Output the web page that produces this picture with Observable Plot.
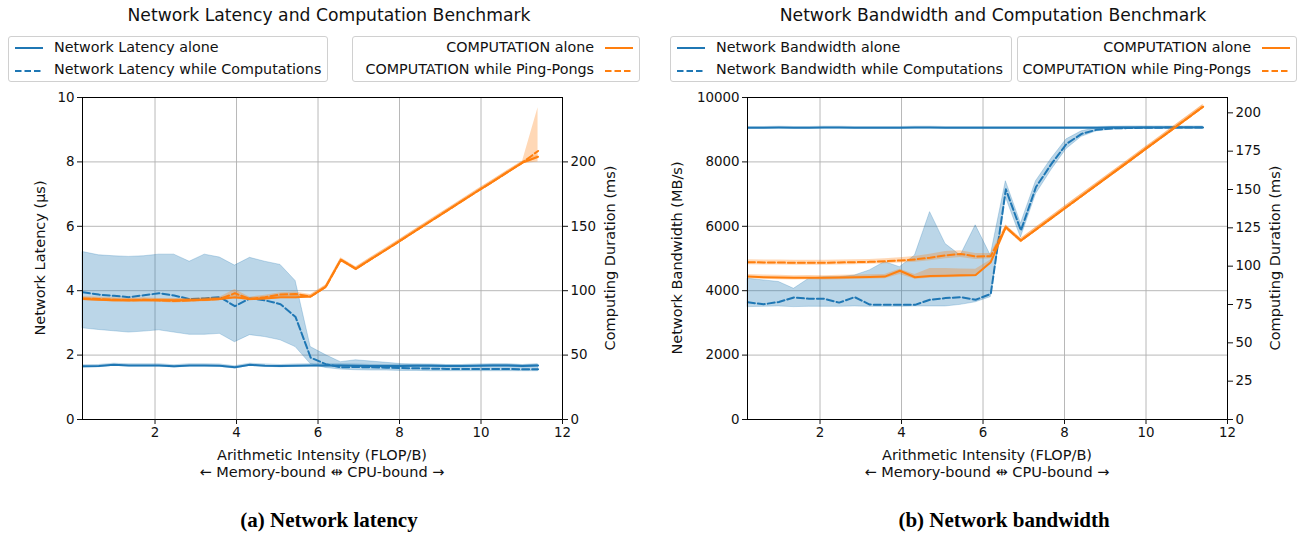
<!DOCTYPE html>
<html><head><meta charset="utf-8">
<script src="https://cdn.jsdelivr.net/npm/d3@7"></script>
<script src="https://cdn.jsdelivr.net/npm/@observablehq/plot@0.6"></script>
<style>
body{margin:0;background:#fff;font-family:"DejaVu Sans",sans-serif;}
#page{position:relative;width:1299px;height:533px;overflow:hidden;}
.abs{position:absolute;white-space:nowrap;}
.ctr{transform:translate(-50%,-50%);}
.rot{transform:translate(-50%,-50%) rotate(-90deg);}
.lg{position:absolute;border:1px solid #d0d0d0;border-radius:3px;background:#fff;box-sizing:border-box;}
.t{font-size:14.3px;color:#111;}
.al{font-size:14.5px;color:#111;}
</style></head><body><div id="page"></div>
<script>
// ---------- data ----------
const intensity = [0.23,0.62,0.99,1.36,1.73,2.1,2.47,2.85,3.22,3.59,3.96,4.33,4.7,5.08,5.45,5.82,6.19,6.56,6.93,7.3,7.68,8.05,8.42,8.79,9.16,9.53,9.9,10.28,10.65,11.02,11.4];

// (a) latency panel (µs) and computation (ms)
const latAlone   = [1.65,1.66,1.70,1.68,1.68,1.68,1.65,1.68,1.68,1.67,1.62,1.70,1.67,1.66,1.67,1.68,1.68,1.68,1.67,1.66,1.66,1.66,1.67,1.67,1.66,1.66,1.67,1.68,1.68,1.66,1.68];
const latAloneLo = [1.60,1.61,1.65,1.63,1.63,1.63,1.60,1.63,1.63,1.62,1.57,1.65,1.62,1.61,1.62,1.63,1.63,1.63,1.62,1.61,1.61,1.61,1.62,1.62,1.61,1.61,1.62,1.63,1.63,1.61,1.63];
const latAloneHi = [1.70,1.71,1.75,1.73,1.73,1.73,1.70,1.73,1.73,1.72,1.67,1.75,1.72,1.71,1.72,1.73,1.73,1.73,1.72,1.71,1.71,1.71,1.72,1.72,1.71,1.71,1.72,1.73,1.73,1.71,1.73];
const latWhile   = [3.95,3.88,3.84,3.80,3.86,3.92,3.85,3.74,3.76,3.80,3.52,3.76,3.70,3.58,3.18,1.92,1.72,1.62,1.63,1.62,1.61,1.60,1.59,1.58,1.57,1.57,1.57,1.57,1.57,1.56,1.56];
const latWhileLo = [2.83,2.78,2.74,2.70,2.73,2.77,2.70,2.63,2.63,2.66,2.40,2.62,2.56,2.46,2.25,1.72,1.60,1.55,1.53,1.52,1.52,1.51,1.51,1.50,1.50,1.50,1.50,1.50,1.50,1.50,1.50];
const latWhileHi = [5.20,5.10,5.07,5.05,5.07,5.12,5.12,4.90,5.12,5.03,4.78,5.02,4.90,4.80,4.30,2.25,2.00,1.78,1.84,1.80,1.76,1.72,1.70,1.69,1.68,1.68,1.68,1.70,1.70,1.68,1.70];
const compAloneA   = [93.5,93,92.5,92.5,92.5,92.5,92.5,92.5,93,93.5,95,93.5,94,95,95,95.5,103,124,117,124.5,132,139.5,147,154.5,162,169.5,177,184.5,192,199.5,204];
const compAloneALo = [92.3,91.8,91.3,91.3,91.3,91.3,91.3,91.3,91.8,92.3,93.5,92.3,92.8,93.8,93.8,94.3,101.8,122.8,115.8,123.3,130.8,138.3,145.8,153.3,160.8,168.3,175.8,183.3,190.8,198.3,202.5];
const compAloneAHi = [94.7,94.2,93.7,93.7,93.7,93.7,93.7,93.7,94.2,94.7,96.5,94.7,95.2,96.2,96.2,96.7,104.2,125.2,118.2,125.7,133.2,140.7,148.2,155.7,163.2,170.7,178.2,185.7,193.2,200.7,205.5];
const compWhileA   = [94,93.5,93,92.5,93,92.5,92,92.5,93,93.5,98,93.5,95,97,97.5,95.5,103,124,117,124.5,132,139.5,147,154.5,162,169.5,177,184.5,192,199.5,208.5];
const compWhileALo = [92.5,92,91.5,91,91.5,91,90.5,91,91.5,92,96,92,93.5,95.5,95.5,94,101.5,122.5,115.5,123,130.5,138,145.5,153,160.5,168,175.5,183,190.5,198.5,200];
const compWhileAHi = [95.5,95,94.5,94,94.5,94,93.5,94,94.5,95,101,95,96.5,98.5,99,97,104.5,125.5,118.5,126,133.5,141,148.5,156,163.5,171,178.5,186,193.5,200.5,242];

// (b) bandwidth panel (MB/s) and computation (ms)
const bwAlone   = [9060,9060,9065,9060,9060,9065,9065,9060,9060,9060,9060,9065,9065,9060,9060,9060,9060,9060,9060,9060,9060,9060,9060,9060,9065,9065,9065,9070,9070,9070,9070];
const bwAloneLo = [9020,9020,9025,9020,9020,9025,9025,9020,9020,9020,9020,9025,9025,9020,9020,9020,9020,9020,9020,9020,9020,9020,9020,9020,9025,9025,9025,9030,9030,9030,9030];
const bwAloneHi = [9100,9100,9105,9100,9100,9105,9105,9100,9100,9100,9100,9105,9105,9100,9100,9100,9100,9100,9100,9100,9100,9100,9100,9100,9105,9105,9105,9110,9110,9110,9110];
const bwWhile   = [3640,3580,3650,3790,3750,3750,3630,3800,3570,3560,3560,3560,3720,3770,3800,3720,3900,7150,5870,7220,7940,8560,8870,9000,9040,9050,9060,9060,9070,9070,9070];
const bwWhileLo = [3490,3500,3510,3490,3500,3500,3500,3510,3500,3500,3500,3510,3510,3510,3560,3640,3800,6900,5650,7000,7750,8400,8780,8950,9000,9020,9030,9040,9050,9050,9050];
const bwWhileHi = [4370,4320,4270,4060,4370,4420,4420,4470,4630,4890,4730,5090,6440,5450,5090,6030,5090,7400,6080,7400,8100,8700,8950,9050,9080,9090,9090,9090,9090,9090,9090];
const compAloneB   = [93.2,92.8,92.6,92.4,92.5,92.4,92.6,92.8,93.0,93.2,97.0,92.8,93.6,93.8,94.0,94.3,102.6,125.4,116.7,123.9,131.3,138.6,145.8,153.0,160.2,167.4,174.7,182.1,189.3,196.5,204.0];
const compAloneBLo = [91.8,91.4,91.2,91.0,91.1,91.0,91.2,91.4,91.6,91.8,94.5,91.4,92.2,92.4,92.6,92.9,101.2,124.0,115.3,122.5,129.9,137.2,144.4,151.6,158.8,166.0,173.3,180.7,187.9,195.1,202.6];
const compAloneBHi = [94.6,94.2,94.0,93.8,93.9,93.8,94.0,94.2,94.4,94.6,98.0,94.5,98.5,98.5,98.2,98.0,104.0,126.8,118.1,125.3,132.7,140.0,147.2,154.4,161.6,168.8,176.1,183.5,190.7,197.9,205.4];
const compWhileB   = [102.6,102.4,102.4,102.2,102.2,102.2,102.4,102.6,102.8,103.2,103.7,104.4,105.5,107.0,108.0,106.3,106.5,125.4,116.7,123.9,131.3,138.6,145.8,153.0,160.2,167.4,174.7,182.1,189.3,196.5,204.0];
const compWhileBLo = [101.0,100.8,100.8,100.6,100.6,100.6,100.8,101.0,101.2,101.6,102.0,102.6,103.5,104.8,105.6,104.3,104.8,124.0,115.3,122.5,129.9,137.2,144.4,151.6,158.8,166.0,173.3,180.7,187.9,195.1,202.6];
const compWhileBHi = [104.2,104.0,104.0,103.8,103.8,103.8,104.0,104.2,104.4,104.8,105.5,106.3,107.8,109.6,110.0,108.3,108.2,126.8,118.1,125.3,132.7,140.0,147.2,154.4,161.6,168.8,176.1,183.5,190.7,197.9,205.4];

const xTicks = [2,4,6,8,10,12];
const latTicks = [0,2,4,6,8,10];
const bwTicks = [0,2000,4000,6000,8000,10000];
const msTicksA = [0,50,100,150,200];
const msTicksB = [0,25,50,75,100,125,150,175,200];

// ---------- helpers ----------
const BLUE = "#1f77b4", ORANGE = "#ff7f0e";
const page = document.getElementById("page");
function txt(s, x, y, cls, extra){
  const d = document.createElement("div");
  d.className = "abs " + cls; d.textContent = s;
  d.style.left = x + "px"; d.style.top = y + "px";
  if (extra) Object.assign(d.style, extra);
  page.appendChild(d); return d;
}
function legend(x, y, w, items, right){
  const box = document.createElement("div");
  box.className = "lg";
  Object.assign(box.style, {left:x+"px", top:y+"px", width:w+"px", height:"46px"});
  items.forEach((it, i) => {
    const cy = 11 + i*22.5;
    const svg = document.createElementNS("http://www.w3.org/2000/svg","svg");
    svg.setAttribute("width", 30); svg.setAttribute("height", 6);
    Object.assign(svg.style, {position:"absolute", top:(cy-3)+"px", [right?"right":"left"]: "5px"});
    const l = document.createElementNS("http://www.w3.org/2000/svg","line");
    l.setAttribute("x1",1); l.setAttribute("x2",29); l.setAttribute("y1",3); l.setAttribute("y2",3);
    l.setAttribute("stroke", it.color); l.setAttribute("stroke-width", 2);
    if (it.dash) l.setAttribute("stroke-dasharray", "6.5,3");
    svg.appendChild(l); box.appendChild(svg);
    const t = document.createElement("div");
    t.className = "t"; t.textContent = it.label;
    Object.assign(t.style, {position:"absolute", top:(cy-9.5)+"px", whiteSpace:"nowrap", [right?"right":"left"]: "45px"});
    box.appendChild(t);
  });
  page.appendChild(box);
}
function rows(...cols){
  return intensity.map((x, i) => ({x, ...Object.fromEntries(cols.map(([k, arr, f]) => [k, f ? arr[i]*f : arr[i]]))}));
}

function panel(o){
  const k = o.k; // right-axis (ms) to left-axis conversion
  const net = rows(["a", o.netAlone], ["aLo", o.netAloneLo], ["aHi", o.netAloneHi], ["w", o.netWhile], ["wLo", o.netWhileLo], ["wHi", o.netWhileHi]);
  const cmp = rows(["a", o.cAlone, k], ["aLo", o.cAloneLo, k], ["aHi", o.cAloneHi, k], ["w", o.cWhile, k], ["wLo", o.cWhileLo, k], ["wHi", o.cWhileHi, k]);
  const chart = Plot.plot({
    width: o.width, height: 362,
    marginLeft: o.ml, marginRight: o.mr, marginTop: 10, marginBottom: 30,
    style: {fontFamily: "DejaVu Sans, sans-serif", fontSize: "13.4px", color: "#111", background: "transparent", overflow: "visible"},
    x: {domain: [0.22, 12]},
    y: {domain: [0, o.yMax]},
    marks: [
      Plot.gridX(xTicks.slice(0, -1), {stroke: "#b0b0b0", strokeOpacity: 1, strokeWidth: 0.9}),
      Plot.gridY(o.yTicks.slice(1, -1), {stroke: "#b0b0b0", strokeOpacity: 1, strokeWidth: 0.9}),
      Plot.areaY(net, {x: "x", y1: "wLo", y2: "wHi", fill: BLUE, fillOpacity: 0.3, stroke: BLUE, strokeOpacity: 0.25, strokeWidth: 1}),
      Plot.areaY(net, {x: "x", y1: "aLo", y2: "aHi", fill: BLUE, fillOpacity: 0.3}),
      Plot.line(net, {x: "x", y: "a", stroke: BLUE, strokeWidth: 2}),
      Plot.line(net, {x: "x", y: "w", stroke: BLUE, strokeWidth: 2, strokeDasharray: "7,3"}),
      Plot.areaY(cmp, {x: "x", y1: "aLo", y2: "aHi", fill: ORANGE, fillOpacity: 0.3}),
      Plot.areaY(cmp, {x: "x", y1: "wLo", y2: "wHi", fill: ORANGE, fillOpacity: 0.3}),
      Plot.line(cmp, {x: "x", y: "w", stroke: ORANGE, strokeWidth: 2, strokeDasharray: "7,3"}),
      Plot.line(cmp, {x: "x", y: "a", stroke: ORANGE, strokeWidth: 2}),
      Plot.frame({stroke: "#000", strokeWidth: 1}),
      Plot.axisX({ticks: xTicks, tickSize: 5, tickPadding: 3, tickFormat: d => String(d), label: null}),
      Plot.axisY({anchor: "left", ticks: o.yTicks, tickSize: 5, tickPadding: 3, tickFormat: d => String(d), label: null}),
      Plot.axisY({anchor: "right", ticks: o.msTicks.map(v => v*k), tickFormat: v => String(Math.round(v/k)), tickSize: 5, tickPadding: 3, label: null})
    ]
  });
  chart.style.position = "absolute";
  chart.style.left = o.left + "px";
  chart.style.top = "87px";
  page.appendChild(chart);
}

const capStyle = {fontFamily: "Liberation Serif, serif", fontWeight: "bold", fontSize: "21px", color: "#000"};

// ---------- panel (a) ----------
panel({left: 0, width: 650, ml: 82, mr: 88, yMax: 10, yTicks: latTicks, msTicks: msTicksA, k: 10/250,
  netAlone: latAlone, netAloneLo: latAloneLo, netAloneHi: latAloneHi, netWhile: latWhile, netWhileLo: latWhileLo, netWhileHi: latWhileHi,
  cAlone: compAloneA, cAloneLo: compAloneALo, cAloneHi: compAloneAHi, cWhile: compWhileA, cWhileLo: compWhileALo, cWhileHi: compWhileAHi});
txt("Network Latency and Computation Benchmark", 329, 15, "ctr", {fontSize: "17.2px", color: "#111"});
legend(8, 36, 320, [{label: "Network Latency alone", color: BLUE}, {label: "Network Latency while Computations", color: BLUE, dash: true}], false);
legend(352, 36, 288, [{label: "COMPUTATION alone", color: ORANGE}, {label: "COMPUTATION while Ping-Pongs", color: ORANGE, dash: true}], true);
txt("Network Latency (µs)", 40, 258, "rot al");
txt("Computing Duration (ms)", 610, 258, "rot al");
txt("Arithmetic Intensity (FLOP/B)", 322, 455, "ctr al");
txt("← Memory-bound ⇹ CPU-bound →", 322, 472, "ctr al");
txt("(a) Network latency", 329, 520, "ctr", capStyle);

// ---------- panel (b) ----------
panel({left: 650, width: 649, ml: 97, mr: 72, yMax: 10000, yTicks: bwTicks, msTicks: msTicksB, k: 10000/210,
  netAlone: bwAlone, netAloneLo: bwAloneLo, netAloneHi: bwAloneHi, netWhile: bwWhile, netWhileLo: bwWhileLo, netWhileHi: bwWhileHi,
  cAlone: compAloneB, cAloneLo: compAloneBLo, cAloneHi: compAloneBHi, cWhile: compWhileB, cWhileLo: compWhileBLo, cWhileHi: compWhileBHi});
txt("Network Bandwidth and Computation Benchmark", 993, 15, "ctr", {fontSize: "17.2px", color: "#111"});
legend(670, 36, 342, [{label: "Network Bandwidth alone", color: BLUE}, {label: "Network Bandwidth while Computations", color: BLUE, dash: true}], false);
legend(1017, 36, 280, [{label: "COMPUTATION alone", color: ORANGE}, {label: "COMPUTATION while Ping-Pongs", color: ORANGE, dash: true}], true);
txt("Network Bandwidth (MB/s)", 677, 258, "rot al");
txt("Computing Duration (ms)", 1275, 258, "rot al");
txt("Arithmetic Intensity (FLOP/B)", 987, 455, "ctr al");
txt("← Memory-bound ⇹ CPU-bound →", 987, 472, "ctr al");
txt("(b) Network bandwidth", 1004, 520, "ctr", capStyle);
</script></body></html>
